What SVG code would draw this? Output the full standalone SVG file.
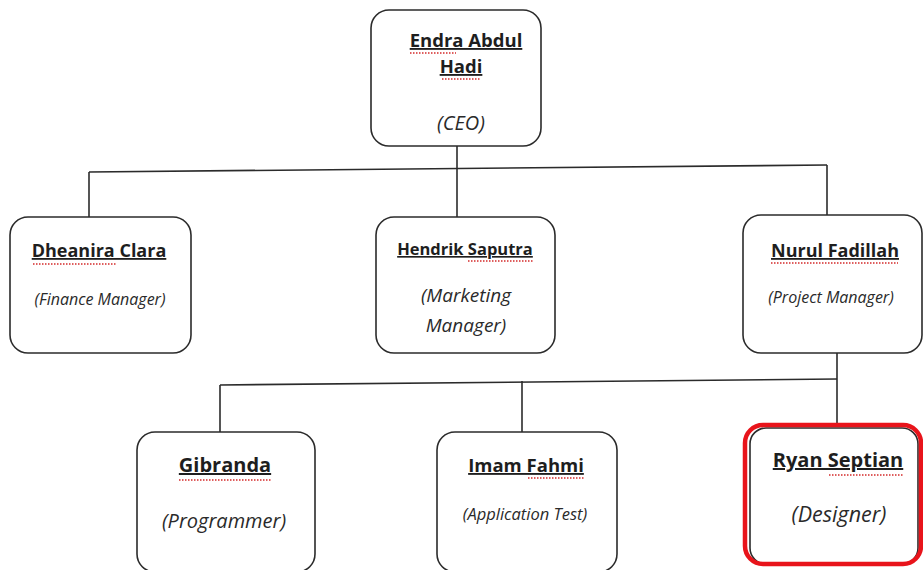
<svg xmlns="http://www.w3.org/2000/svg" width="923" height="570" viewBox="0 0 923 570">
<style>
.box{fill:#fff;stroke:#2b2b2b;stroke-width:1.6}
.red{fill:none;stroke:#e8141b;stroke-width:4.5}
.name{font-family:"Open Sans","Liberation Sans",sans-serif;font-weight:bold;font-size:18px;fill:#1e1e1e;text-anchor:middle;text-decoration:underline}
.role{font-family:"Open Sans","Liberation Sans",sans-serif;font-style:italic;font-size:16px;fill:#2a2a2a;text-anchor:middle}
.con{fill:none;stroke:#2b2b2b;stroke-width:1.6}
.sq{fill:none;stroke:#d42a2a;stroke-width:1.3;stroke-dasharray:1.5 1.5}
</style>
<rect width="923" height="570" fill="#fff"/>
<g id="connectors">
<line class="con" x1="457" y1="146" x2="457" y2="168"/>
<line class="con" x1="89" y1="172" x2="827" y2="165"/>
<line class="con" x1="89" y1="172" x2="89" y2="217"/>
<line class="con" x1="457" y1="168" x2="457" y2="217"/>
<line class="con" x1="827" y1="165" x2="827" y2="215"/>
<line class="con" x1="837" y1="353" x2="837" y2="425"/>
<line class="con" x1="220" y1="385" x2="837" y2="379"/>
<line class="con" x1="220" y1="385" x2="220" y2="432"/>
<line class="con" x1="522" y1="381" x2="522" y2="432"/>
</g>
<g id="ceo">
<rect class="box" x="371" y="10" width="170" height="136" rx="18"/>
<text class="name" x="466" y="47" style="font-size:18.5px">Endra Abdul</text>
<text class="name" x="461" y="73" style="font-size:18.5px">Hadi</text>
<text class="role" x="461" y="130" style="font-size:20px">(CEO)</text>
<line class="sq" x1="410" y1="53" x2="456" y2="53"/>
<line class="sq" x1="442" y1="79" x2="480" y2="79"/>
</g>
<g id="finance">
<rect class="box" x="10" y="217" width="181" height="136" rx="18"/>
<text class="name" x="99" y="257">Dheanira Clara</text>
<text class="role" x="100" y="305">(Finance Manager)</text>
<line class="sq" x1="33" y1="264" x2="117" y2="264"/>
</g>
<g id="marketing">
<rect class="box" x="376" y="217" width="179" height="136" rx="18"/>
<text class="name" x="465" y="255" style="font-size:16.5px">Hendrik Saputra</text>
<text class="role" x="466" y="302" style="font-size:19px">(Marketing</text>
<text class="role" x="466" y="332" style="font-size:19px">Manager)</text>
<line class="sq" x1="468" y1="261" x2="533" y2="261"/>
</g>
<g id="project">
<rect class="box" x="743" y="215" width="179" height="138" rx="18"/>
<text class="name" x="835" y="257">Nurul Fadillah</text>
<text class="role" x="831" y="303">(Project Manager)</text>
<line class="sq" x1="771" y1="263" x2="898" y2="263"/>
</g>
<g id="programmer">
<rect class="box" x="137" y="432" width="178" height="140" rx="18"/>
<text class="name" x="225" y="472" style="font-size:20px">Gibranda</text>
<text class="role" x="224" y="528" style="font-size:20px">(Programmer)</text>
<line class="sq" x1="179" y1="480" x2="272" y2="480"/>
</g>
<g id="tester">
<rect class="box" x="437" y="432" width="180" height="140" rx="18"/>
<text class="name" x="526" y="472" style="font-size:18.5px">Imam Fahmi</text>
<text class="role" x="525" y="520" style="font-size:16.5px">(Application Test)</text>
<line class="sq" x1="528" y1="478" x2="584" y2="478"/>
</g>
<g id="designer">
<rect class="box" x="750" y="428" width="168" height="136" rx="16"/>
<rect class="red" x="745" y="425" width="176" height="139" rx="18"/>
<text class="name" x="838" y="467" style="font-size:20px">Ryan Septian</text>
<text class="role" x="839" y="522" style="font-size:21.5px">(Designer)</text>
<line class="sq" x1="829" y1="475" x2="904" y2="475"/>
</g>
</svg>
